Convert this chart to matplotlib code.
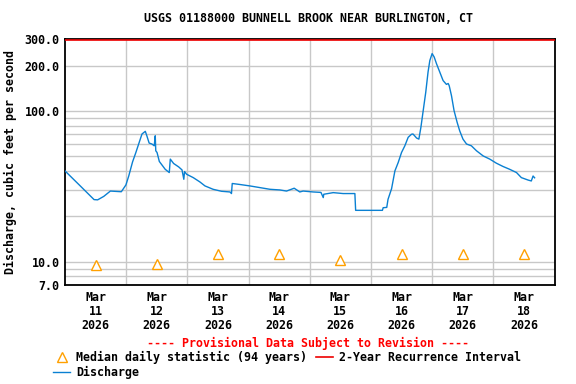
import matplotlib
matplotlib.use("Agg")
import matplotlib.pyplot as plt
from matplotlib.lines import Line2D
import numpy as np

# Discharge (cfs) vs hours since Mar 11 2026 00:00
hours = [0.0, 5.9, 11.4, 12.8, 15.2, 17.8, 22.1, 23.9, 25.0, 26.5, 27.8, 29.1, 30.2, 31.5,
         32.1, 33.0, 34.1, 35.0, 35.4, 35.6, 36.1, 37.0, 39.3, 40.9, 41.3, 42.6, 44.6, 45.9,
         46.6, 46.9, 47.7, 50.3, 52.9, 54.9, 58.1, 61.4, 64.7, 65.3, 65.6, 68.6, 72.5, 76.4,
         80.4, 84.3, 86.9, 89.9, 92.1, 93.4, 97.3, 100.4, 101.3, 101.5, 105.2, 109.1, 113.7,
         114.0, 124.5, 124.8, 126.2, 126.7, 128.1, 129.4, 130.7, 132.0, 133.3, 134.6, 135.9,
         136.5, 137.9, 138.8, 139.6, 140.5, 141.5, 142.4, 143.1, 144.0, 144.8, 145.7, 147.0,
         148.3, 149.6, 150.3, 150.7, 151.6, 152.6, 153.8, 154.8, 156.1, 157.5, 159.4, 161.4,
         164.0, 166.6, 169.2, 171.8, 174.4, 177.1, 179.0, 181.6, 182.9, 183.6, 184.2]
discharge = [40.0, 31.9, 25.8, 25.7, 27.1, 29.4, 29.1, 32.3, 37.0, 45.9, 53.0, 61.8, 70.3, 73.2,
             68.4, 61.2, 60.3, 58.7, 68.4, 54.4, 53.0, 46.2, 41.0, 39.0, 47.9, 44.8, 42.5, 40.6,
             35.2, 39.6, 38.0, 36.1, 33.8, 31.8, 30.2, 29.3, 29.0, 28.3, 33.0, 32.5, 31.8, 31.0,
             30.2, 29.9, 29.4, 30.7, 29.0, 29.4, 29.0, 28.8, 26.6, 28.0, 28.7, 28.3, 28.3,
             21.9, 21.9, 22.8, 22.9, 25.9, 30.5, 40.0, 45.5, 53.0, 58.7, 66.8, 70.0,
             70.3, 66.1, 65.0, 77.9, 100.5, 133.0, 181.0, 216.0, 240.0, 228.0, 206.0, 181.0,
             159.0, 150.0, 152.0, 147.0, 126.0, 100.5, 84.1, 73.9, 65.0, 60.3, 58.7, 54.4,
             50.3, 47.9, 45.0, 42.8, 41.0, 39.0, 36.1, 34.8, 34.3, 37.0, 36.0]

# Median daily statistic at noon of each day
median_days = [0.5, 1.5, 2.5, 3.5, 4.5, 5.5, 6.5, 7.5]
median_vals = [9.45, 9.6, 11.2, 11.2, 10.3, 11.2, 11.2, 11.2]

recurrence_2yr = 296.0

day_labels = ["Mar\n11\n2026", "Mar\n12\n2026", "Mar\n13\n2026", "Mar\n14\n2026",
              "Mar\n15\n2026", "Mar\n16\n2026", "Mar\n17\n2026", "Mar\n18\n2026"]
ytick_vals = [7, 10, 100, 200, 300]
ytick_labels = ["7.0", "10.0", "100.0", "200.0", "300.0"]
ygrid_minor = [8, 9, 20, 30, 40, 50, 60, 70, 80, 90]

FONT = "DejaVu Sans Mono"
FS = 8.35
plt.rcParams['font.family'] = FONT
plt.rcParams['font.weight'] = 'bold'

fig = plt.figure(figsize=(5.76, 3.84), dpi=100)
ax = fig.add_axes([65/576, 1-285/384, (554.5-65)/576, (285-39)/384])

days = np.array(hours) / 24.0
blue = '#0a80d2'
ax.plot(days, discharge, color=blue, lw=1.0, label='Discharge', zorder=3)
ax.axhline(recurrence_2yr, color='#ee0000', lw=1.2, label='2-Year Recurrence Interval', zorder=3)
ax.plot(median_days, median_vals, linestyle='none', marker='^', markersize=7.5,
        markerfacecolor='white', markeredgecolor='#ffa000', markeredgewidth=1.0,
        label='Median daily statistic (94 years)', zorder=4)

ax.set_yscale('log')
ax.set_ylim(7, 300)
ax.set_xlim(0, 8)
ax.set_yticks(ytick_vals)
ax.set_yticklabels(ytick_labels)
ax.set_yticks(ygrid_minor, minor=True)
ax.yaxis.set_minor_formatter(matplotlib.ticker.NullFormatter())
ax.set_xticks([1, 2, 3, 4, 5, 6, 7])
ax.set_xticklabels([])
ax.set_xticks(median_days, minor=True)
ax.set_xticklabels(day_labels, minor=True, linespacing=1.1)
ax.tick_params(axis='both', which='both', length=0, labelsize=FS, pad=4)
ax.tick_params(axis='x', which='minor', pad=4)
ax.grid(True, axis='y', which='both', color='#c8c8c8', lw=1.0, zorder=0)
ax.grid(True, axis='x', which='major', color='#c8c8c8', lw=1.0, zorder=0)
ax.grid(False, axis='x', which='minor')
ax.set_axisbelow(True)
for s in ax.spines.values():
    s.set_linewidth(1.3)
    s.set_color('black')

ax.set_ylabel("Discharge, cubic feet per second", fontsize=FS, fontweight='bold', labelpad=5)
fig.text(309/576, 1-19/384, "USGS 01188000 BUNNELL BROOK NEAR BURLINGTON, CT",
         ha='center', va='center', fontsize=FS, fontweight='bold')
fig.text(308/576, 1-343/384, "---- Provisional Data Subject to Revision ----",
         ha='center', va='center', fontsize=FS, fontweight='bold', color='#ff0000')

h_med = Line2D([], [], linestyle='none', marker='^', markersize=7.5, markerfacecolor='white',
               markeredgecolor='#ffa000', markeredgewidth=1.0)
h_dis = Line2D([], [], color=blue, lw=1.0)
h_rec = Line2D([], [], color='#ee0000', lw=1.2)
leg = fig.legend([h_med, h_dis, h_rec],
                 ['Median daily statistic (94 years)', 'Discharge', '2-Year Recurrence Interval'],
                 ncol=2, loc='upper left', bbox_to_anchor=(53/576, 1-351/384),
                 frameon=False, handlelength=1.5, handletextpad=0.5,
                 columnspacing=0.75, labelspacing=0.17, borderpad=0, borderaxespad=0,
                 prop={'family': FONT, 'weight': 'bold', 'size': FS})

fig.savefig('out.png', dpi=100)
